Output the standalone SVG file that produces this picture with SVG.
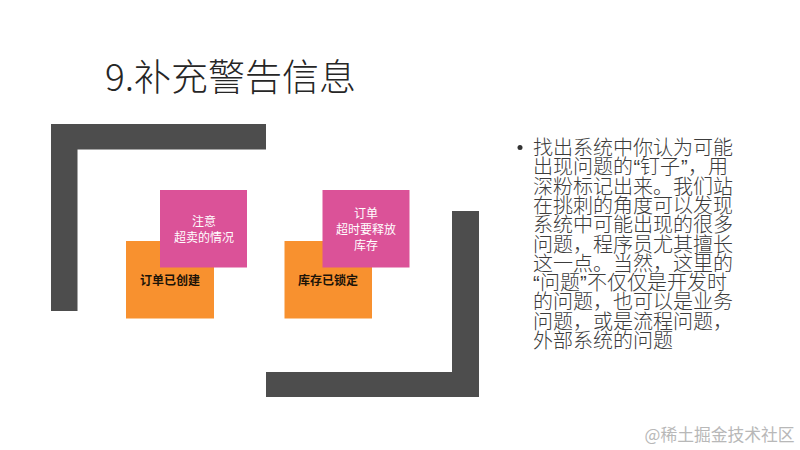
<svg xmlns="http://www.w3.org/2000/svg" width="800" height="450" viewBox="0 0 800 450">
<style>
text{font-family:"Noto Sans CJK SC","Noto Sans",sans-serif}
.bar{fill:#4d4d4d}
.pink{fill:#db5298}
.orange{fill:#f8912f}
.w{font-size:12px;fill:#fff;text-anchor:middle}
.k{font-size:12px;font-weight:700;fill:#1c1408;text-anchor:middle}
.b{font-size:20px;fill:#3c3c3c;font-weight:300}
.q{font-family:"Liberation Sans",sans-serif}
</style>
<rect width="800" height="450" fill="#fff"/>
<text id="title" x="105" y="91" font-size="37" fill="#262626" font-weight="300">9.补充警告信息</text>
<g id="frame-left"><path class="bar" d="M51 124H266V149.500H77.500V311H51Z"/></g>
<g id="frame-right"><path class="bar" d="M452 211H479V397H266V372H452Z"/></g>
<g id="node-order-created"><rect class="orange" x="126" y="241" width="88" height="77.500"/><text class="k" x="170" y="285">订单已创建</text></g>
<g id="node-oversell"><rect class="pink" x="160" y="190" width="87" height="77.500"/><text class="w" x="204" y="226">注意</text><text class="w" x="204" y="242">超卖的情况</text></g>
<g id="node-stock-locked"><rect class="orange" x="284.500" y="241" width="87.500" height="77.500"/><text class="k" x="328" y="285">库存已锁定</text></g>
<g id="node-release"><rect class="pink" x="322.500" y="190" width="87" height="77.500"/><text class="w" x="366" y="218">订单</text><text class="w" x="366" y="234">超时要释放</text><text class="w" x="366" y="250">库存</text></g>
<g id="bullet-text">
<circle cx="520" cy="147.500" r="2.500" fill="#333"/>
<text class="b">
<tspan x="533" y="155">找出系统中你认为可能</tspan>
<tspan x="533" y="174.300">出现问题的</tspan><tspan class="q" x="633.500" y="174.300">“</tspan><tspan x="640" y="174.300">钉子</tspan><tspan class="q" x="681" y="174.300">”</tspan><tspan x="688" y="174.300">，</tspan><tspan x="708" y="174.300">用</tspan>
<tspan x="533" y="193.600">深粉标记出来。我们站</tspan>
<tspan x="533" y="212.900">在挑刺的角度可以发现</tspan>
<tspan x="533" y="232.200">系统中可能出现的很多</tspan>
<tspan x="533" y="251.500">问题，程序员尤其擅长</tspan>
<tspan x="533" y="270.800">这一点。当然，这里的</tspan>
<tspan class="q" x="533" y="290.100">“</tspan><tspan x="540" y="290.100">问题</tspan><tspan class="q" x="580" y="290.100">”</tspan><tspan x="587" y="290.100">不仅仅是开发时</tspan>
<tspan x="533" y="309.400">的问题，也可以是业务</tspan>
<tspan x="533" y="328.700">问题，或是流程问题，</tspan>
<tspan x="533" y="348">外部系统的问题</tspan>
</text>
</g>
<text id="watermark" x="644.500" y="441" font-size="16.800" fill="#b8b8b8">@稀土掘金技术社区</text>
</svg>
